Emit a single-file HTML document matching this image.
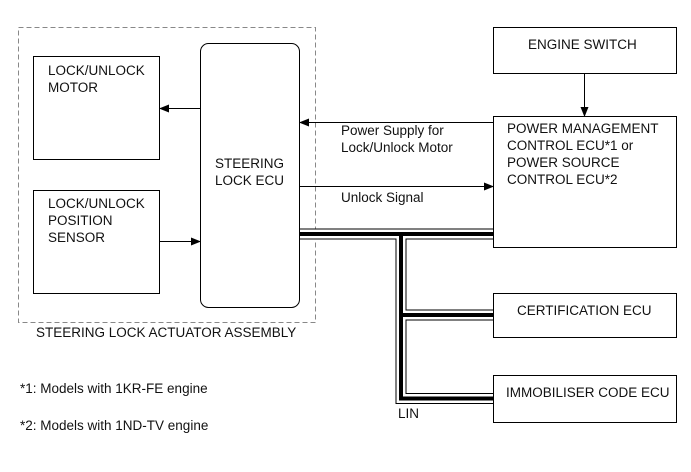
<!DOCTYPE html>
<html><head><style>
body{margin:0;background:#fff}
svg text{font-family:"Liberation Sans",Arial,sans-serif;font-size:13.5px;fill:#111}
</style></head><body>
<svg width="691" height="467" viewBox="0 0 691 467" xmlns="http://www.w3.org/2000/svg">
<defs><marker id="a" markerWidth="10" markerHeight="8" refX="9" refY="4" orient="auto" markerUnits="userSpaceOnUse"><path d="M0,0 L10,4 L0,8 z" fill="#000"/></marker></defs>
<rect x="18.5" y="27.5" width="297" height="295" fill="none" stroke="#888" stroke-dasharray="5,3"/>
<rect x="33.5" y="56.5" width="126" height="103" fill="none" stroke="#000"/>
<rect x="33.5" y="190.5" width="126" height="103" fill="none" stroke="#000"/>
<rect x="200.5" y="43.5" width="99" height="264" rx="8" fill="none" stroke="#000"/>
<rect x="493.5" y="27.5" width="183" height="46" fill="none" stroke="#000"/>
<rect x="493.5" y="116.5" width="183" height="131" fill="none" stroke="#000"/>
<rect x="493.5" y="293.5" width="183" height="44" fill="none" stroke="#000"/>
<rect x="493.5" y="375.5" width="183" height="47" fill="none" stroke="#000"/>
<g stroke="#000" fill="none">
<line x1="200" y1="108.5" x2="160" y2="108.5" marker-end="url(#a)"/>
<line x1="160" y1="241.5" x2="200" y2="241.5" marker-end="url(#a)"/>
<line x1="493" y1="122.5" x2="300" y2="122.5" marker-end="url(#a)"/>
<line x1="300" y1="186.5" x2="493" y2="186.5" marker-end="url(#a)"/>
<line x1="584.5" y1="74" x2="584.5" y2="116" marker-end="url(#a)"/>
</g>
<g fill="none" stroke-linejoin="miter" stroke-linecap="butt">
<path d="M300,234 H493 M401,234 V398.5 H493 M401,315 H493" stroke="#000" stroke-width="11"/>
<path d="M300,234 H493 M401,234 V398.5 H493 M401,315 H493" stroke="#fff" stroke-width="9"/>
<path d="M300,234 H493 M401,234 V398.5 H493 M401,315 H493" stroke="#000" stroke-width="4"/>
</g>
<line x1="493.5" y1="226" x2="493.5" y2="248" stroke="#000"/>
<line x1="493.5" y1="306" x2="493.5" y2="324" stroke="#000"/>
<line x1="493.5" y1="389" x2="493.5" y2="408" stroke="#000"/>
<text x="48" y="75">LOCK/UNLOCK</text><text x="48" y="92">MOTOR</text>
<text x="48" y="208">LOCK/UNLOCK</text><text x="48" y="225">POSITION</text><text x="48" y="242">SENSOR</text>
<text x="215" y="168">STEERING</text><text x="215" y="185">LOCK ECU</text>
<text x="36" y="337">STEERING LOCK ACTUATOR ASSEMBLY</text>
<text x="341" y="135">Power Supply for</text><text x="341" y="152">Lock/Unlock Motor</text>
<text x="341" y="202">Unlock Signal</text>
<text x="528" y="49">ENGINE SWITCH</text>
<text x="507" y="133">POWER MANAGEMENT</text><text x="507" y="150">CONTROL ECU*1 or</text><text x="507" y="167">POWER SOURCE</text><text x="507" y="184">CONTROL ECU*2</text>
<text x="517" y="315">CERTIFICATION ECU</text>
<text x="506" y="397">IMMOBILISER CODE ECU</text>
<text x="398" y="418">LIN</text>
<text x="20" y="393">*1: Models with 1KR-FE engine</text>
<text x="20" y="430">*2: Models with 1ND-TV engine</text>
</svg>
</body></html>
